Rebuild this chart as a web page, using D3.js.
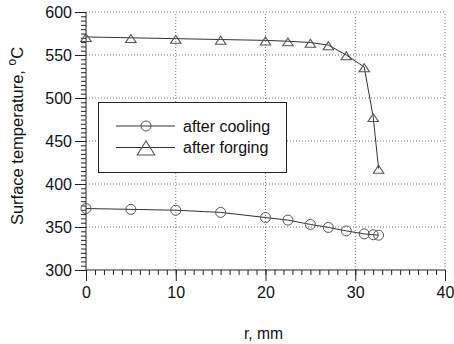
<!DOCTYPE html>
<html><head><meta charset="utf-8">
<script src="https://cdn.jsdelivr.net/npm/d3@7"></script>
<style>body{margin:0;background:#fff}svg{display:block}text{font-family:"Liberation Sans",Arial,sans-serif;fill:#111}</style>
</head><body><svg id="c" width="454" height="344"></svg>
<script>
const rValues = [0, 5, 10, 15, 20, 22.5, 25, 27, 29, 31, 32, 32.6];
const afterCooling = [371.5, 370.5, 369.5, 367, 361, 358, 353, 349.5, 345.5, 342, 341, 340.5];
const afterForging = [571, 570, 569, 568, 567, 566, 564.5, 561.5, 550, 536, 478, 418];
const seriesNames = ["after cooling", "after forging"];
const xTicks = [0, 10, 20, 30, 40];
const yTicks = [300, 350, 400, 450, 500, 550, 600];

const svg = d3.select("#c");
const x = d3.scaleLinear().domain([0, 40]).range([86, 445]);
const y = d3.scaleLinear().domain([300, 600]).range([270, 12]);
const ink = "#222", gridC = "#777";

// grid (dotted)
const g = svg.append("g");
g.selectAll(".gy").data(yTicks.filter(v => v > 300)).enter().append("line")
  .attr("x1", x(0)).attr("x2", x(40)).attr("y1", d => y(d)).attr("y2", d => y(d))
  .attr("stroke", gridC).attr("stroke-width", 1).attr("stroke-dasharray", "1,2");
g.selectAll(".gx").data(xTicks.filter(v => v > 0)).enter().append("line")
  .attr("y1", y(300)).attr("y2", y(600)).attr("x1", d => x(d)).attr("x2", d => x(d))
  .attr("stroke", gridC).attr("stroke-width", 1).attr("stroke-dasharray", "1,2");

// axes
const fs = "16px";
const xAxis = d3.axisBottom(x).tickValues(xTicks).tickSize(11).tickPadding(6).tickFormat(d3.format("d"));
const xMinor = d3.axisBottom(x).tickValues(d3.range(0, 41, 1)).tickSize(5).tickFormat("");
const yAxis = d3.axisLeft(y).tickValues(yTicks).tickSize(11).tickPadding(3).tickFormat(d3.format("d"));
const yMinor = d3.axisLeft(y).tickValues(d3.range(300, 601, 5)).tickSize(5).tickFormat("");

function style(sel) {
  sel.select(".domain").remove();
  sel.selectAll("line").attr("stroke", ink).attr("stroke-width", 1);
  sel.selectAll("text").style("font-size", fs).attr("fill", "#111")
     .style("font-family", '"Liberation Sans",Arial,sans-serif');
}
svg.append("g").attr("transform", `translate(0,${y(300)})`).call(xMinor).call(style);
svg.append("g").attr("transform", `translate(0,${y(300)})`).call(xAxis).call(style);
svg.append("g").attr("transform", `translate(${x(0)},0)`).call(yMinor).call(style);
svg.append("g").attr("transform", `translate(${x(0)},0)`).call(yAxis).call(style);
svg.append("line").attr("x1", x(0)).attr("x2", x(40)).attr("y1", y(300)).attr("y2", y(300)).attr("stroke", ink);
svg.append("line").attr("x1", x(0)).attr("x2", x(0)).attr("y1", y(300)).attr("y2", y(600)).attr("stroke", ink);

// titles
svg.append("text").attr("x", 263.5).attr("y", 339).attr("text-anchor", "middle")
  .style("font-size", "15.7px").text("r, mm");
const yt = svg.append("text").attr("transform", `translate(23,136) rotate(-90)`)
  .attr("text-anchor", "middle").style("font-size", "16.5px");
yt.append("tspan").text("Surface temperature, ");
yt.append("tspan").attr("dy", -7).style("font-size", "12px").text("o");
yt.append("tspan").attr("dy", 7).text("C");

// series
const line = d3.line().x((d, i) => x(rValues[i])).y(d => y(d));
const tri = d3.symbol().type(d3.symbolTriangle).size(36);
function drawSeries(vals, marker) {
  svg.append("path").datum(vals).attr("d", line).attr("fill", "none")
    .attr("stroke", "#333").attr("stroke-width", 1);
  const m = svg.append("g");
  if (marker === "circle") {
    m.selectAll("circle").data(vals).enter().append("circle")
      .attr("cx", (d, i) => x(rValues[i])).attr("cy", d => y(d)).attr("r", 5)
      .attr("fill", "none").attr("stroke", "#555").attr("stroke-width", 1);
  } else {
    m.selectAll("path").data(vals).enter().append("path")
      .attr("d", tri).attr("transform", (d, i) => `translate(${x(rValues[i])},${y(d) + 2}) scale(1.15,1)`)
      .attr("fill", "none").attr("stroke", "#555").attr("stroke-width", 1);
  }
}
drawSeries(afterCooling, "circle");
drawSeries(afterForging, "triangle");

// legend
const lg = svg.append("g");
lg.append("rect").attr("x", 98.5).attr("y", 102.5).attr("width", 188).attr("height", 70)
  .attr("fill", "#fff").attr("stroke", ink).attr("stroke-width", 1);
const items = [{name: seriesNames[0], mk: "circle", yy: 126}, {name: seriesNames[1], mk: "triangle", yy: 147.5}];
items.forEach(it => {
  lg.append("line").attr("x1", 116).attr("x2", 175).attr("y1", it.yy).attr("y2", it.yy)
    .attr("stroke", "#333");
  if (it.mk === "circle") {
    lg.append("circle").attr("cx", 146).attr("cy", it.yy).attr("r", 5)
      .attr("fill", "none").attr("stroke", "#555");
  } else {
    lg.append("path").attr("d", d3.symbol().type(d3.symbolTriangle).size(112))
      .attr("transform", `translate(146,${it.yy + 2.8}) scale(1.1,1)`)
      .attr("fill", "none").attr("stroke", "#555");
  }
  lg.append("text").attr("x", 183).attr("y", it.yy + 5.5).style("font-size", fs).text(it.name);
});
</script></body></html>
